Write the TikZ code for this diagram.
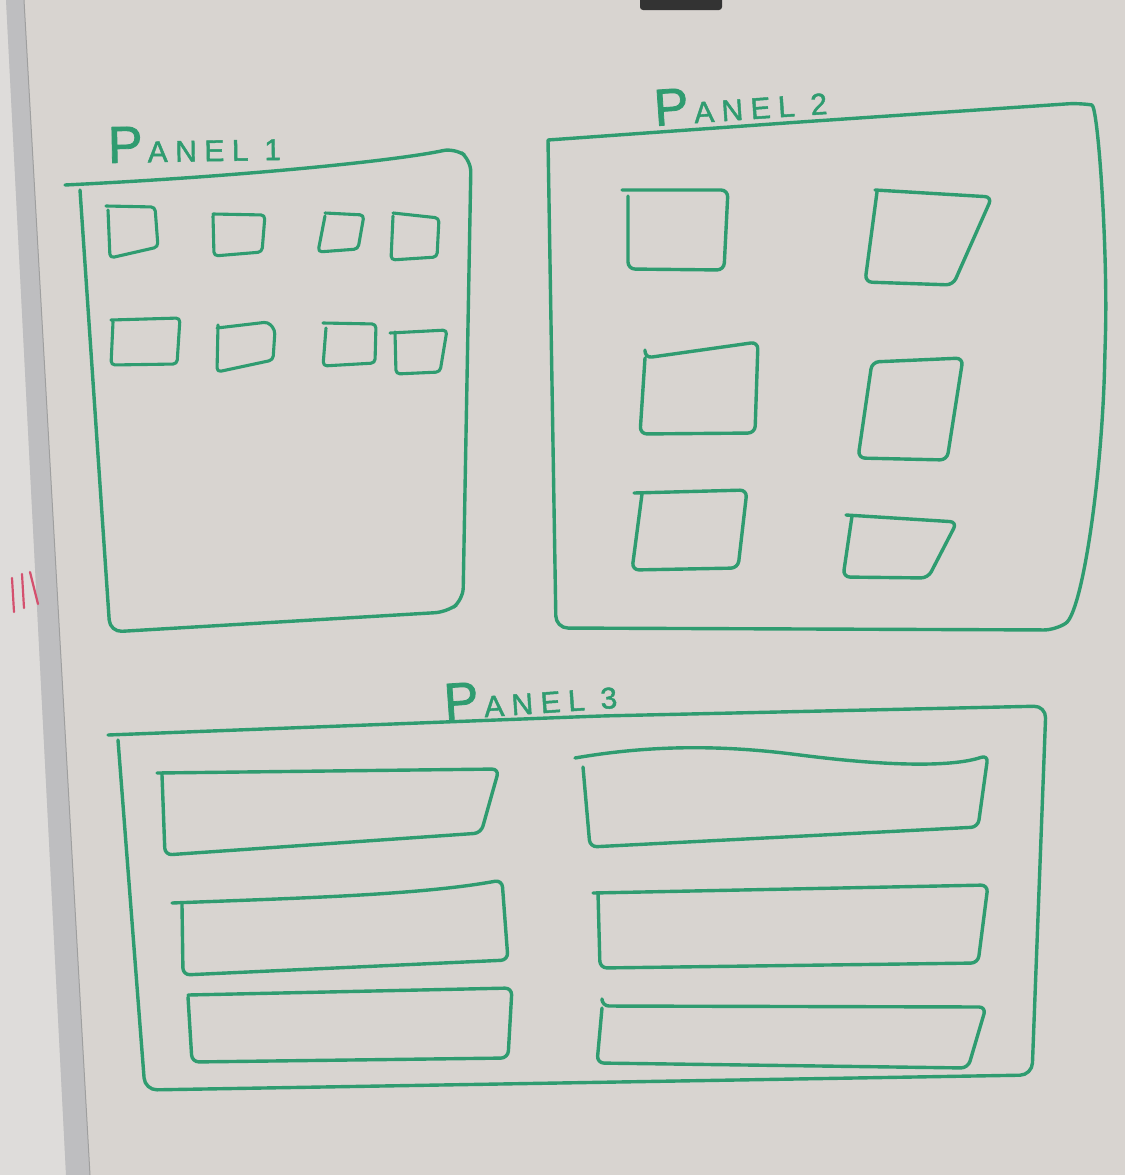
\documentclass[tikz,border=0pt]{standalone}
\usepackage{fontspec}
\setmainfont{Liberation Sans}
\definecolor{board}{HTML}{D8D4D0}
\definecolor{boardL}{HTML}{DEDCDA}
\definecolor{strip}{HTML}{BEBEC0}
\definecolor{marker}{HTML}{2F9C70}
\definecolor{redmark}{HTML}{D4506E}
\begin{document}
\begin{tikzpicture}[x=1pt,y=-1pt,
  pen/.style={draw=marker,line width=3.4pt,line cap=round,line join=round,rounded corners=7pt},
  smallpen/.style={pen,line width=3.1pt,rounded corners=4pt},
  bigpen/.style={pen,rounded corners=12pt},
  lbl/.style={text=marker,anchor=base west,inner sep=0pt,font=\addfontfeatures{LetterSpace=25,FakeBold=1.5}}]
\useasboundingbox (0,0) rectangle (1125,1175);
% whiteboard and frame
\fill[board] (0,0) rectangle (1125,1175);
\fill[boardL] (0,0) -- (6,0) -- (66,1175) -- (0,1175) -- cycle;
\fill[strip] (6,0) -- (24,0) -- (90,1175) -- (66,1175) -- cycle;
\draw[gray!75,line width=1pt] (24,0) -- (90,1175);
\fill[gray!40!black,rounded corners=3pt] (640,-5) rectangle (722,10);
% red marks of the neighbouring board
\draw[redmark,line width=2.2pt,line cap=round] (12,578) -- (14,612);
\draw[redmark,line width=2.2pt,line cap=round] (22,574) -- (24,608);
\draw[redmark,line width=2.2pt,line cap=round] (30,572) -- (38,604);

% labels
\node[lbl,rotate=1] (l1) at (108,163) {\fontsize{52}{52}\selectfont P\hspace{5pt}\fontsize{30}{30}\selectfont ANEL 1};
\node[lbl,rotate=4] (l2) at (655,126) {\fontsize{52}{52}\selectfont P\hspace{5pt}\fontsize{30}{30}\selectfont ANEL 2};
\node[lbl,rotate=4] (l3) at (445,720) {\fontsize{52}{52}\selectfont P\hspace{5pt}\fontsize{30}{30}\selectfont ANEL 3};

% Panel 1
\draw[bigpen] (65,185) .. controls (250,176) and (400,160) .. (455,148) -- (471,160) -- (463,600) -- (447,612) -- (110,632) -- (80,190);
\draw[smallpen] (106,206) -- (155,207) -- (158,247) -- (110,258) -- (108,210);
\draw[smallpen] (213,214) -- (265,215) -- (262,252) -- (214,256) -- (213,216);
\draw[smallpen] (325,213) -- (364,215) -- (358,249) -- (318,252) -- (325,216);
\draw[smallpen] (393,213) -- (439,218) -- (437,257) -- (391,260) -- (393,216);
\draw[smallpen] (111,320) -- (180,318) -- (177,364) -- (111,365) -- (113,322);
\draw[smallpen] (217,328) -- (268,322) -- (275,330) -- (273,360) -- (217,372) -- (218,325);
\draw[smallpen] (323,323) -- (376,324) -- (375,363) -- (323,366) -- (326,328);
\draw[smallpen] (390,333) -- (447,330) -- (440,372) -- (396,374) -- (395,332);

% Panel 2
\draw[bigpen] (548,140) -- (800,122) -- (1080,103)
  .. controls (1098,106) and (1108,250) .. (1105,350)
  .. controls (1102,480) and (1082,612) .. (1056,630) -- (556,628) -- (548,140);
\draw[pen] (622,190) -- (728,190) -- (724,270) -- (628,269) -- (628,196);
\draw[pen] (875,190) -- (992,197) -- (953,285) -- (865,282) -- (877,192);
\draw[pen] (645,350) -- (645,358) -- (758,342) -- (755,433) -- (640,434) -- (645,358);
\draw[pen] (872,362) -- (963,358) -- (947,460) -- (858,458) -- cycle;
\draw[pen] (634,493) -- (747,490) -- (738,568) -- (632,570) -- (642,494);
\draw[pen] (846,515) -- (957,522) -- (928,578) -- (843,577) -- (852,516);

% Panel 3
\draw[bigpen] (108,735) -- (600,716) -- (1046,706) -- (1032,1075) -- (145,1090) -- (118,740);
\draw[pen] (157,773) -- (499,769) -- (481,833) -- (165,855) -- (162,775);
\draw[pen] (172,903) .. controls (300,898) and (420,895) .. (502,880) -- (508,960) -- (183,975) -- (182,905);
\draw[pen] (188,995) -- (512,988) -- (508,1058) -- (192,1062) -- (188,997);
\draw[pen] (575,758) .. controls (650,745) and (720,745) .. (800,755)
  .. controls (880,765) and (950,768) .. (988,755) -- (978,827) -- (590,847) -- (583,767);
\draw[pen] (593,893) -- (988,885) -- (978,963) -- (600,968) -- (598,893);
\draw[pen] (602,1001) -- (602,1006) -- (986,1007) -- (968,1068) -- (597,1063) -- (602,1008);
\end{tikzpicture}
\end{document}
